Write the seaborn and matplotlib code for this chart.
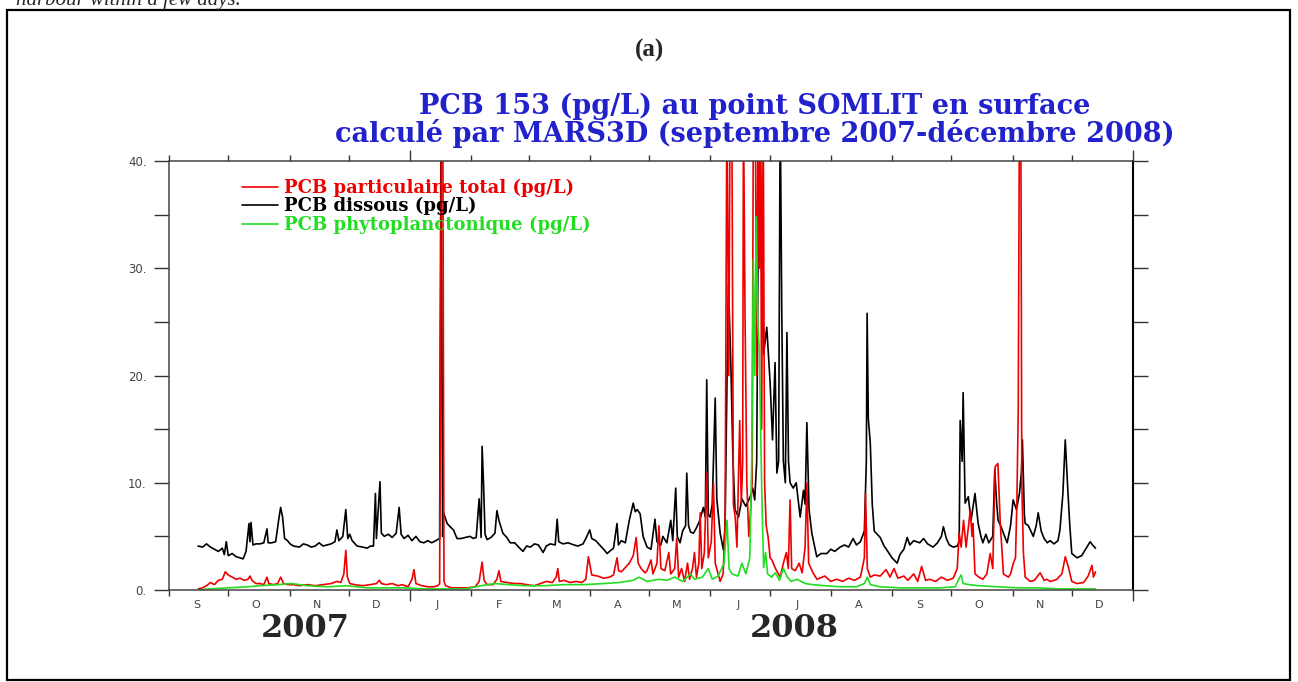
import numpy as np
import pandas as pd
import seaborn as sns
import matplotlib.pyplot as plt
import matplotlib.dates as mdates
from matplotlib.patches import Rectangle

# days after 1 Sept 2007, value in pg/L (>40 = off scale)
start = pd.Timestamp('2007-09-01')

dissous = [
    (14.7, 4.1), (17, 4.0), (19, 4.3), (21, 4.0), (23, 3.8), (25, 3.6), (27, 3.9), (28, 3.3),
    (29, 4.5), (30, 3.2), (32, 3.4), (34, 3.1), (36, 3.0), (37.5, 2.9), (39, 3.6), (40.5, 6.2),
    (41, 4.5), (41.5, 6.3), (42.5, 4.2), (44, 4.3), (46, 4.3), (48, 4.4), (49.6, 5.7), (50.2, 4.4),
    (52, 4.4), (54, 4.5), (55.5, 6.5), (56.5, 7.7), (57.5, 6.8), (58.5, 4.8), (60, 4.6), (61.3, 4.3),
    (63, 4.1), (66, 4.0), (68, 4.3), (70, 4.2), (72, 4.0), (74, 4.1), (76, 4.4), (78, 4.1),
    (80, 4.2), (82, 4.3), (84, 4.5), (85, 5.6), (86, 4.6), (88, 5.0), (89.5, 7.5), (90.5, 4.8),
    (91.5, 5.2), (92.7, 4.6), (95.2, 4.1), (98, 4.0), (100.3, 3.9), (102, 4.1), (103.5, 4.1),
    (104.5, 9.0), (105, 4.8), (106.8, 10.1), (107.5, 5.3), (109, 5.0), (111, 5.2), (113, 4.9),
    (115, 5.3), (116.5, 7.7), (117.5, 5.2), (119, 4.8), (121, 5.1), (123, 4.6), (125, 5.0),
    (127, 4.5), (129, 4.4), (131, 4.6), (133, 4.4), (135, 4.6), (137, 4.8), (137.7, 45),
    (138.5, 5.0), (139, 7.2), (140.8, 6.2), (142.3, 5.9), (144, 5.6), (145.8, 4.8), (148, 4.8),
    (150, 4.9), (152.4, 5.0), (154, 4.8), (155.5, 4.9), (157, 8.5), (158, 4.9), (158.5, 13.4),
    (159.2, 10), (160, 5.2), (161, 4.7), (163, 4.9), (165, 5.3), (166, 7.4), (167, 6.5), (169, 5.3),
    (171, 4.9), (172.7, 4.4), (175, 4.4), (177, 4.0), (179.2, 3.6), (181, 4.1), (183, 4.0),
    (185, 4.3), (187, 4.2), (189.4, 3.5), (191, 4.1), (193, 4.3), (195.5, 4.2), (196.5, 6.6),
    (197.3, 4.5), (199.5, 4.3), (202, 4.4), (205, 4.2), (207, 4.1), (209.6, 4.3), (211, 4.8),
    (213, 5.6), (214, 4.8), (216, 4.6), (218, 4.2), (220, 3.8), (221.8, 3.4), (223, 3.6),
    (225, 3.9), (226.8, 6.2), (227.5, 4.2), (229, 4.6), (231, 4.4), (233, 6.5), (235, 8.1),
    (236, 7.3), (237, 7.5), (238.5, 7.1), (240, 5.0), (242, 4.0), (244, 3.8), (246, 6.6),
    (247, 4.5), (249, 4.2), (250, 5.0), (252, 4.4), (254, 6.5), (255, 4.6), (256.5, 9.5),
    (257.3, 5.0), (258.7, 4.4), (260, 5.5), (261.5, 6.0), (262.1, 10.9), (263, 6.0), (264, 5.4),
    (265.5, 5.3), (267, 5.8), (268.5, 6.4), (270.5, 7.7), (271.5, 6.8), (272.2, 19.6), (273, 7.0),
    (273.9, 6.8), (275, 8.0), (276.5, 17.9), (277.3, 8.5), (279, 5.3), (280.7, 3.7), (281.5, 6.0),
    (282.5, 20), (283.2, 28.6), (284.5, 20.5), (285.5, 12), (286.5, 7.5), (288.3, 6.8), (290, 8.5),
    (292, 7.8), (294.2, 8.7), (295.5, 9.5), (296.5, 8.4), (297.5, 12), (298.3, 35), (299.2, 45),
    (300, 30), (301, 22), (302.6, 24.5), (304.3, 19.3), (305.5, 14), (306.8, 21.2), (307.7, 10.9),
    (308.6, 12), (309.4, 45), (310.2, 25.8), (311, 12), (312, 10), (312.8, 24), (313.6, 12),
    (314.4, 10), (316, 9.5), (317.5, 10.0), (319.5, 6.8), (321.2, 9.3), (322, 8), (322.9, 15.6),
    (324, 7.5), (325.4, 5.3), (327.9, 3.1), (330, 3.4), (333, 3.4), (335, 3.8), (337, 3.6),
    (339.7, 4.0), (342, 4.2), (344, 4.0), (346.3, 4.8), (348, 4.2), (350, 4.5), (352, 5.5),
    (353, 12), (353.4, 25.8), (354, 16), (355, 13.7), (356, 8), (357, 5.5), (360, 4.9), (362, 4.1),
    (363.5, 3.7), (366, 3.0), (368.6, 2.5), (370, 3.3), (372, 3.8), (373.7, 4.9), (375, 4.2),
    (377, 4.6), (380, 4.4), (382, 4.8), (384, 4.3), (386.8, 4.0), (389, 4.4), (391, 5.0),
    (392, 5.9), (393.5, 4.8), (395, 4.2), (397, 4.0), (399, 4.1), (400, 4.5), (400.5, 15.8),
    (401.5, 12), (402, 18.4), (403, 8.1), (404.6, 8.7), (406, 6.5), (408, 9.0), (409.6, 6.2),
    (411, 5.0), (412, 4.4), (413.5, 5.2), (415, 4.4), (417, 5.0), (418, 11.2), (419, 8),
    (419.7, 6.5), (421, 6.0), (423, 5.0), (424.3, 4.4), (426, 6.0), (427.3, 8.4), (429, 7.5),
    (430.5, 9), (431.5, 11), (432, 14), (433, 7), (433.4, 6.2), (435, 6.0), (437.5, 5.0), (439, 6.0),
    (440, 7.2), (441.5, 5.5), (443, 4.8), (444.6, 4.4), (446, 4.6), (448, 4.3), (450, 4.6),
    (451, 5.6), (452.5, 9), (453.7, 14), (455, 9.3), (456, 6), (457, 3.4), (459.7, 3.0),
    (462, 3.2), (464, 3.8), (466.3, 4.5), (467.5, 4.2), (469, 3.9),
]

particulaire = [
    (14.7, 0.1), (17, 0.2), (19, 0.4), (21, 0.7), (23, 0.5), (25, 0.9), (27, 1.0), (28.5, 1.7),
    (30, 1.4), (32, 1.2), (34, 1.0), (36, 1.1), (38, 0.9), (40, 1.0), (41, 1.3), (42, 0.9),
    (44, 0.6), (46, 0.6), (48, 0.5), (49.6, 1.2), (50.5, 0.6), (53, 0.5), (55, 0.6), (56.5, 1.2),
    (58, 0.6), (60, 0.5), (63, 0.5), (66, 0.4), (70, 0.5), (74, 0.4), (78, 0.5), (82, 0.6),
    (85, 0.8), (87, 0.7), (88.5, 1.5), (89.5, 3.7), (90.3, 1.2), (91.5, 0.6), (94, 0.5), (98, 0.4),
    (102, 0.5), (105, 0.6), (106.5, 0.9), (107.5, 0.6), (110, 0.5), (113, 0.6), (116, 0.4),
    (118, 0.5), (121, 0.3), (123, 1.0), (124, 1.9), (125, 0.6), (128, 0.4), (131, 0.3), (134, 0.3),
    (136, 0.4), (137, 0.6), (137.9, 45), (138.6, 45), (139.2, 0.8), (140, 0.4), (143, 0.2),
    (147, 0.2), (151, 0.2), (155, 0.3), (157, 0.8), (158.5, 2.6), (159.5, 0.9), (161, 0.5),
    (164, 0.5), (166, 1.0), (167, 1.8), (168, 0.8), (171, 0.7), (175, 0.6), (178, 0.6), (181, 0.5),
    (185, 0.4), (188, 0.6), (191, 0.8), (194, 0.7), (196, 1.2), (196.8, 2.0), (197.6, 0.8),
    (200, 0.9), (203, 0.7), (206, 0.8), (209, 0.7), (211, 1.0), (212.3, 3.1), (213.2, 2.2),
    (214, 1.4), (217, 1.3), (220, 1.1), (223, 1.2), (225, 1.4), (226.8, 3.0), (227.6, 1.8),
    (229, 1.7), (231, 2.1), (233, 2.5), (235, 3.2), (236.5, 4.9), (237.5, 2.5), (239, 2.0),
    (241, 1.6), (242, 1.8), (244, 2.8), (245, 1.5), (247, 2.5), (248, 6.0), (249, 2.0), (251, 1.8),
    (253, 3.5), (254, 1.5), (256, 2.0), (257, 4.8), (258, 1.2), (259.5, 2.0), (261, 0.8),
    (262.5, 2.5), (263.5, 1.0), (265, 2.0), (266, 3.5), (267, 1.2), (268.2, 2.5), (268.9, 7.2),
    (269.7, 2.0), (271, 3.5), (272.2, 10.9), (273, 3.0), (274.5, 4.5), (275.6, 10.0), (276.5, 2.5),
    (278, 1.5), (279, 0.8), (280.5, 1.5), (281.5, 6), (282.4, 45), (283.4, 20), (284, 45),
    (284.9, 45), (285.7, 8), (286.6, 6.8), (287.5, 4), (288.9, 15.8), (289.7, 8), (290.4, 12),
    (290.8, 45), (291.6, 25.5), (292.5, 10), (293.5, 5), (294.2, 6.8), (295.2, 10), (295.8, 45),
    (296.8, 45), (297.5, 20), (298.2, 45), (298.8, 30), (299.4, 45), (300, 15), (300.8, 45),
    (301.5, 10), (302.3, 6), (303.3, 4.9), (304.3, 3), (305.2, 2.8), (307, 2), (309.4, 1.2),
    (311, 2.5), (312.5, 3.5), (313.5, 2), (314.4, 8.4), (315.2, 2), (317, 1.8), (319, 2.5),
    (320.5, 1.6), (322, 4), (322.9, 10), (323.8, 2.5), (326, 1.6), (328, 1.0), (332, 1.3),
    (335, 0.8), (338, 1.0), (341, 0.8), (344, 1.1), (347, 0.9), (350, 1.2), (352, 3), (352.6, 9.0),
    (353.5, 2), (355, 1.2), (357, 1.4), (360, 1.3), (363, 1.9), (365, 1.2), (367, 2.0), (369, 1.1),
    (372, 1.3), (374, 0.9), (377, 1.5), (379, 0.8), (381, 2.2), (383, 0.9), (385, 1.0), (388, 0.8),
    (391, 1.2), (394, 0.9), (397, 1.1), (399, 2.0), (400, 5.3), (401, 4.0), (402.2, 6.5),
    (403.5, 4.0), (405.6, 7.4), (406.5, 5.0), (407, 6.2), (408, 1.5), (410, 1.2), (412, 1.0),
    (414, 1.5), (415.7, 3.4), (417, 2.0), (418.2, 11.5), (419.6, 11.8), (420.8, 6.2), (422.4, 1.5),
    (424.9, 1.2), (426, 1.5), (427.4, 2.5), (428.5, 3), (429.2, 8.1), (429.9, 16.8), (430.5, 45),
    (431.2, 45), (431.7, 10), (432.5, 3.5), (433.4, 1.2), (435.9, 0.8), (438, 0.9), (441, 1.6),
    (443, 0.9), (444.4, 1.0), (446, 0.8), (448, 0.9), (449.4, 1.0), (452, 1.5), (453.7, 3.1),
    (455.2, 2.2), (457, 0.8), (459.6, 0.6), (463, 0.7), (465.3, 1.3), (467.2, 2.3), (468, 1.2),
    (469, 1.7),
]

phyto = [
    (14.7, 0.0), (20, 0.1), (30, 0.2), (40, 0.3), (46, 0.4), (55, 0.5), (62, 0.6), (70, 0.4),
    (80, 0.3), (90, 0.4), (100, 0.2), (110, 0.2), (120, 0.2), (130, 0.1), (140, 0.1), (150, 0.1),
    (158, 0.4), (165, 0.6), (172, 0.5), (180, 0.4), (190, 0.4), (200, 0.5), (210, 0.5), (220, 0.6),
    (228, 0.7), (235, 0.9), (238, 1.2), (242, 0.8), (248, 1.0), (252, 0.9), (256, 1.2), (260, 0.8),
    (264, 1.5), (266, 1.0), (270, 1.2), (273, 2.0), (275, 1.0), (278, 1.3), (281, 2.5),
    (282.5, 6.5), (283.5, 2), (285, 1.5), (288, 1.3), (290, 2.5), (292, 1.5), (294, 3), (295, 12),
    (295.8, 30.8), (296.5, 20), (297.3, 34.8), (298, 25), (298.8, 22.4), (299.5, 15), (300.2, 8),
    (301, 2.1), (302, 3.5), (303, 1.5), (305, 1.2), (307, 1.6), (309, 0.9), (311, 2.0), (313, 1.2),
    (315, 0.8), (318, 1.0), (322, 0.6), (326, 0.5), (332, 0.4), (340, 0.3), (348, 0.3), (352, 0.6),
    (353.5, 1.2), (355, 0.5), (360, 0.3), (370, 0.2), (380, 0.2), (390, 0.2), (398, 0.3),
    (400, 1.1), (401, 1.4), (402, 0.6), (405, 0.5), (410, 0.4), (420, 0.3), (430, 0.2), (440, 0.2),
    (450, 0.1), (460, 0.1), (469, 0.1),
]

labels = ['PCB particulaire total (pg/L)', 'PCB dissous (pg/L)', 'PCB phytoplanctonique (pg/L)']
colors = ['#ee0000', '#000000', '#22dd22']
month_letters = ['J', 'F', 'M', 'A', 'M', 'J', 'J', 'A', 'S', 'O', 'N', 'D']


def to_frame(pairs):
    df = pd.DataFrame(pairs, columns=['day', 'pg'])
    df['date'] = start + pd.to_timedelta(df['day'], unit='D')
    return df


sns.set_style('ticks')
plt.rcParams['font.family'] = ['DejaVu Sans']

fig = plt.figure(figsize=(12.98, 6.82), dpi=100)
ax = fig.add_axes([0.1302, 0.1349, 0.7427, 0.629])

sns.lineplot(data=to_frame(dissous), x='date', y='pg', color=colors[1], lw=1.2,
             estimator=None, ax=ax)
sns.lineplot(data=to_frame(particulaire), x='date', y='pg', color=colors[0], lw=1.2,
             estimator=None, ax=ax)
sns.lineplot(data=to_frame(phyto), x='date', y='pg', color=colors[2], lw=1.2,
             estimator=None, ax=ax)

ax.set_xlim(start, pd.Timestamp('2009-01-01'))
ax.set_ylim(0, 40)
ax.set_xlabel('')
ax.set_ylabel('')

# y axis: labelled every 10, ticks every 5, on both sides
ax.set_yticks([0, 10, 20, 30, 40])
ax.set_yticklabels(['0.', '10.', '20.', '30.', '40.'])
ax.set_yticks([5, 15, 25, 35], minor=True)
ax.tick_params(axis='y', which='both', direction='out', length=11, width=1.0,
               left=True, right=True, color='#333333', labelsize=8.5,
               labelcolor='#444444', pad=5)

# x axis: month boundaries as ticks, letters at mid-month
ax.xaxis.set_major_locator(mdates.MonthLocator())
ax.xaxis.set_major_formatter(plt.NullFormatter())
ax.xaxis.set_minor_locator(mdates.MonthLocator(bymonthday=15))
ax.xaxis.set_minor_formatter(plt.FuncFormatter(
    lambda v, p: month_letters[mdates.num2date(v).month - 1]))
ax.tick_params(axis='x', which='major', direction='out', length=4, width=1.0,
               top=True, bottom=True, color='#333333')
ax.tick_params(axis='x', which='minor', length=0, pad=7, labelsize=8,
               labelcolor='#444444')
for t, loc in zip(ax.xaxis.get_major_ticks(), ax.xaxis.get_majorticklocs()):
    if mdates.num2date(loc).month == 1:
        t.tick1line.set_markersize(8)
        t.tick2line.set_markersize(8)

for side in ['left', 'bottom', 'top']:
    ax.spines[side].set_color('#444444')
    ax.spines[side].set_linewidth(1.1)
ax.spines['right'].set_color('black')
ax.spines['right'].set_linewidth(1.5)

serif = ['Liberation Serif', 'DejaVu Serif']
wide_serif = ['DejaVu Serif']
ax.text(0.141, -0.09, '2007', transform=ax.transAxes, ha='center', va='center',
        fontsize=23, fontweight='bold', family=wide_serif)
ax.text(0.649, -0.09, '2008', transform=ax.transAxes, ha='center', va='center',
        fontsize=23, fontweight='bold', family=wide_serif)

# legend: red, black, green
lines = ax.get_lines()
leg = ax.legend([lines[1], lines[0], lines[2]], labels, loc='upper left',
                bbox_to_anchor=(0.066, 0.98), frameon=False, handlelength=2.0,
                handletextpad=0.35, labelspacing=0.02, borderpad=0,
                prop={'family': wide_serif, 'weight': 'bold', 'size': 13})
for txt, c in zip(leg.get_texts(), colors):
    txt.set_color(c)

blue = '#2222cc'
fig.text(755 / 1298, 1 - 106 / 682, 'PCB 153 (pg/L) au point SOMLIT en surface',
         ha='center', va='center', fontsize=19.5, color=blue, family=wide_serif,
         fontweight='bold')
fig.text(755 / 1298, 1 - 133 / 682,
         'calculé par MARS3D (septembre 2007-décembre 2008)',
         ha='center', va='center', fontsize=19.5, color=blue, family=wide_serif,
         fontweight='bold')
fig.text(649 / 1298, 1 - 50 / 682, '(a)', ha='center', va='center', fontsize=18,
         fontweight='bold', family=serif)
fig.text(0.012, 1.0, 'harbour within a few days.', ha='left', va='center',
         fontsize=15, style='italic', family=serif)

fig.patches.append(Rectangle((7 / 1298, 2 / 682), 1283 / 1298, 670 / 682,
                             transform=fig.transFigure, fill=False,
                             edgecolor='black', lw=1.6))

fig.savefig('out.png', dpi=100)
